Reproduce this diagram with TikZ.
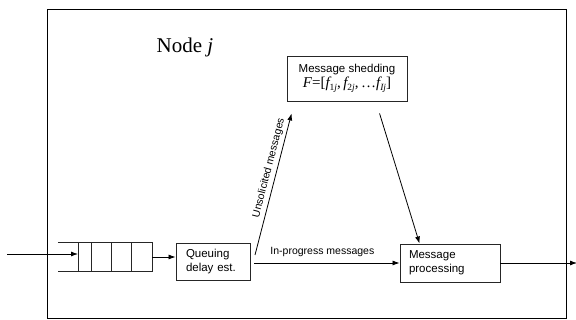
\documentclass[tikz,border=0pt]{standalone}
\usepackage{fontspec}
\setmainfont{Liberation Serif}
\newfontfamily\arialf{Liberation Sans}
\newfontfamily\timesf{Liberation Serif}
\usetikzlibrary{arrows.meta,calc}
\tikzset{
  boxt/.style={draw=black!85, line width=0.9pt, font=\arialf\fontsize{11.5}{14}\selectfont, inner sep=0pt},
  arr/.style={line width=0.8pt, -{Latex[length=7pt,width=5pt]}},
  lbl/.style={font=\arialf\fontsize{10.5}{12}\selectfont, inner sep=0pt},
  qline/.style={line width=0.9pt, draw=black!85}
}
\newcommand\sbx[1]{\raisebox{-0.22em}{\fontsize{9.5}{9.5}\selectfont #1}}
\begin{document}
\begin{tikzpicture}[x=1pt,y=-1pt]
\useasboundingbox (0,0) rectangle (576,320);
% outer frame
\node[draw=black, line width=0.9pt, minimum width=519pt, minimum height=309pt, inner sep=0pt] (frame) at (306.5,163.5) {};
\node[font=\timesf\fontsize{21}{24}\selectfont, anchor=base] (title) at (185,53) {Node \textit{j}};
% queue
\node[minimum width=94pt, minimum height=28pt, inner sep=0pt] (queue) at (105,257) {};
\draw[qline] (queue.north west) -- (queue.north east) -- (queue.south east) -- (queue.south west);
\foreach \x in {78,91.5,111.5,131.5} \draw[qline] (\x,243) -- (\x,271);
% boxes
\node[boxt, minimum width=74pt, minimum height=37pt, text width=54pt, align=left] (qd) at (213,261.5) {Queuing\\delay est.};
\node[boxt, minimum width=120pt, minimum height=45pt, align=center] (shed) at (347,78.5)
  {Message shedding\\[1pt]{\timesf\fontsize{15}{15}\selectfont\itshape F\upshape=[\itshape f\sbx{\upshape 1\itshape j}\upshape,\,\itshape f\sbx{\upshape 2\itshape j}\upshape,\,\ldots\itshape f\sbx{Ij}\upshape]}};
\node[boxt, minimum width=100pt, minimum height=38pt, text width=82pt, align=left] (proc) at (450,263) {Message\\processing};
% connectors
\coordinate (in) at (7,254);
\coordinate (qin) at (78,254);
\draw[arr] (in) -- (qin);
\draw[arr] (queue.east) -- (queue.east -| qd.west);
\coordinate (us) at (255,255);
\coordinate (ue) at ($(shed.south west)+(5,12)$);
\draw[arr] (us) -- (ue) node[lbl, pos=0.6, sloped, above=3pt] {Unsolicited messages};
\coordinate (ip) at (254,263);
\draw[arr] (ip) -- (proc.west) node[lbl, pos=0.47, above=6pt] {In-progress messages};
\coordinate (ss) at ($(shed.south west)+(93,12)$);
\draw[arr] (ss) -- ($(proc.north west)+(20,0)$);
\coordinate (out) at (577,263);
\draw[arr] (proc.east) -- (out);
\end{tikzpicture}
\end{document}
